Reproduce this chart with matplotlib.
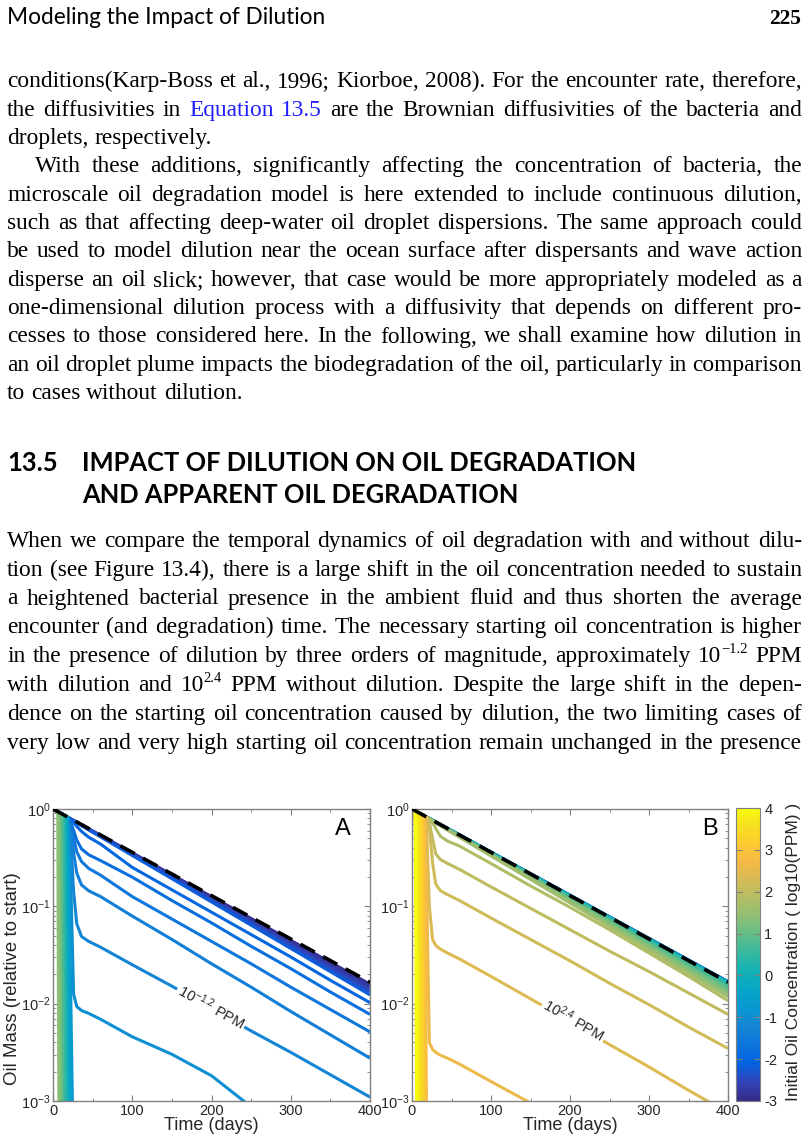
import numpy as np
import matplotlib
matplotlib.use("Agg")
import matplotlib.pyplot as plt
from matplotlib.colors import LinearSegmentedColormap, Normalize
from matplotlib.cm import ScalarMappable
from matplotlib.ticker import MultipleLocator, LogLocator, LogFormatterMathtext, NullFormatter

# ---------------- page text ----------------
header_left = "Modeling the Impact of Dilution"
page_number = "225"

# '@' marks a hyperlink word, '^{..}' a superscript
para1 = [
    "conditions(Karp-Boss et al., 1996; Kiorboe, 2008). For the encounter rate, therefore,",
    "the diffusivities in @Equation @13.5 are the Brownian diffusivities of the bacteria and",
    "droplets, respectively.",
]
para2 = [
    "With these additions, significantly affecting the concentration of bacteria, the",
    "microscale oil degradation model is here extended to include continuous dilution,",
    "such as that affecting deep-water oil droplet dispersions. The same approach could",
    "be used to model dilution near the ocean surface after dispersants and wave action",
    "disperse an oil slick; however, that case would be more appropriately modeled as a",
    "one-dimensional dilution process with a diffusivity that depends on different pro-",
    "cesses to those considered here. In the following, we shall examine how dilution in",
    "an oil droplet plume impacts the biodegradation of the oil, particularly in comparison",
    "to cases without dilution.",
]
section_num = "13.5"
section_title = ["IMPACT OF DILUTION ON OIL DEGRADATION", "AND APPARENT OIL DEGRADATION"]
para3 = [
    "When we compare the temporal dynamics of oil degradation with and without dilu-",
    "tion (see Figure 13.4), there is a large shift in the oil concentration needed to sustain",
    "a heightened bacterial presence in the ambient fluid and thus shorten the average",
    "encounter (and degradation) time. The necessary starting oil concentration is higher",
    "in the presence of dilution by three orders of magnitude, approximately 10^{\u22121.2} PPM",
    "with dilution and 10^{2.4} PPM without dilution. Despite the large shift in the depen-",
    "dence on the starting oil concentration caused by dilution, the two limiting cases of",
    "very low and very high starting oil concentration remain unchanged in the presence",
]

# ---------------- chart data: log10(oil mass relative to start) ----------------
t_grid = [0, 18, 22, 26, 30, 36, 45, 60, 100, 150, 200, 250, 300, 350, 400]
dash_t = [0, 400]
dash_v = [0.0, -1.78]

# panel A (with dilution)
a_band_conc = [-3.0, -2.8, -2.6, -2.4, -2.2]
a_band_end = [-1.80, -1.82, -1.85, -1.88, -1.91]
a_knee_conc = [-2.0, -1.8, -1.6, -1.4, -1.2, -1.0]
a_knee_vals = [
    [0, -0.085, -0.11, -0.14, -0.18, -0.23, -0.29, -0.36, -0.60, -0.83, -1.06, -1.29, -1.52, -1.76, -1.99],
    [0, -0.085, -0.13, -0.22, -0.32, -0.41, -0.47, -0.53, -0.70, -0.94, -1.17, -1.41, -1.64, -1.88, -2.11],
    [0, -0.085, -0.16, -0.30, -0.44, -0.54, -0.61, -0.68, -0.90, -1.13, -1.36, -1.59, -1.83, -2.06, -2.29],
    [0, -0.085, -0.20, -0.45, -0.66, -0.78, -0.84, -0.90, -1.10, -1.34, -1.59, -1.83, -2.08, -2.32, -2.56],
    [0, -0.085, -0.25, -0.85, -1.18, -1.31, -1.36, -1.42, -1.60, -1.82, -2.05, -2.28, -2.50, -2.73, -2.96],
    [0, -0.085, -0.60, -1.90, -2.03, -2.07, -2.10, -2.16, -2.34, -2.52, -2.74, -3.06, -3.30, -3.50, -3.70],
]
a_steep_conc = [-0.8, -0.6, -0.4, -0.2, 0.0, 0.2, 0.4, 0.6, 0.8, 1.0, 1.2, 1.4]
a_steep_t0 = [19, 18, 17, 16, 15, 14, 13, 12, 10.5, 9, 7.5, 6]
a_steep_v0 = [-0.085, -0.08, -0.075, -0.07, -0.067, -0.062, -0.058, -0.053, -0.047, -0.04, -0.033, -0.027]
a_steep_t1 = [25, 23, 21, 19.5, 18, 16.5, 15, 13.5, 12, 10.5, 9, 7.5]

# panel B (without dilution)
b_band_conc = [-3.0, -2.5, -2.0, -1.5, -1.0, -0.5, 0.0, 0.4, 0.6, 0.8, 1.0, 1.2, 1.4, 1.6]
b_band_end = [-1.775, -1.775, -1.775, -1.775, -1.775, -1.78, -1.785, -1.80, -1.815, -1.835,
              -1.855, -1.875, -1.90, -1.93]
b_knee_conc = [1.8, 2.0, 2.2, 2.4, 2.6]
b_knee_vals = [
    [0, -0.08, -0.10, -0.14, -0.20, -0.28, -0.33, -0.38, -0.56, -0.79, -1.01, -1.24, -1.48, -1.72, -1.97],
    [0, -0.08, -0.14, -0.30, -0.46, -0.52, -0.56, -0.62, -0.80, -1.02, -1.24, -1.46, -1.67, -1.89, -2.11],
    [0, -0.08, -0.20, -0.55, -0.77, -0.84, -0.88, -0.94, -1.12, -1.34, -1.56, -1.79, -2.01, -2.24, -2.46],
    [0, -0.08, -1.00, -1.34, -1.40, -1.44, -1.48, -1.54, -1.72, -1.95, -2.18, -2.42, -2.65, -2.89, -3.12],
    [0, -0.60, -2.40, -2.47, -2.50, -2.53, -2.56, -2.62, -2.80, -3.02, -3.24, -3.46, -3.68, -3.90, -4.10],
]
b_steep_conc = [2.8, 3.0, 3.2, 3.4, 3.6, 3.8, 4.0]
b_steep_t0 = [16, 14, 12, 10, 8, 6, 4]
b_steep_v0 = [-0.07, -0.062, -0.053, -0.045, -0.036, -0.027, -0.018]
b_steep_t1 = [18.5, 16, 14, 12, 10, 8, 6]
steep_end = -3.3

cbar_ticks = [-3, -2, -1, 0, 1, 2, 3, 4]

# ---------------- style ----------------
parula_rgb = [
    (0.2081, 0.1663, 0.5292), (0.1959, 0.2645, 0.7279), (0.0117, 0.3875, 0.8820),
    (0.0498, 0.4586, 0.8641), (0.0793, 0.5200, 0.8312), (0.0343, 0.5966, 0.8199),
    (0.0228, 0.6535, 0.7768), (0.0843, 0.6928, 0.7062), (0.2178, 0.7250, 0.6193),
    (0.3953, 0.7459, 0.5244), (0.5709, 0.7485, 0.4494), (0.7184, 0.7411, 0.3905),
    (0.8507, 0.7299, 0.3360), (0.9739, 0.7314, 0.2666), (0.9880, 0.8066, 0.1794),
    (0.9589, 0.8949, 0.1132), (0.9763, 0.9831, 0.0538),
]
parula_pos = [0, 4, 8, 12, 16, 20, 24, 28, 32, 36, 40, 44, 48, 52, 56, 60, 63]
parula = LinearSegmentedColormap.from_list(
    "parula", list(zip([p / 63 for p in parula_pos], parula_rgb)))
norm = Normalize(-3, 4)

SERIF = "Liberation Serif"
SANS = "Lato"
PLOT_FONT = "Liberation Sans"
LINK = "#1f1fff"
FRAME = "#808080"
TICKC = "#262626"

plt.rcParams["font.family"] = [PLOT_FONT, "DejaVu Sans"]
plt.rcParams["mathtext.fontset"] = "custom"
plt.rcParams["mathtext.rm"] = PLOT_FONT
plt.rcParams["mathtext.it"] = PLOT_FONT + ":italic"
plt.rcParams["mathtext.bf"] = PLOT_FONT + ":bold"
plt.rcParams["axes.unicode_minus"] = False

W, H = 810, 1145
fig = plt.figure(figsize=(W / 100, H / 100), dpi=100, facecolor="white")
renderer = fig.canvas.get_renderer()


def px(x, y):
    return x / W, 1 - y / H


def text_width(s, size, family, weight="normal"):
    if not s:
        return 0.0
    t = fig.text(0, 0, s, fontsize=size, family=family, weight=weight)
    w = t.get_window_extent(renderer).width
    t.remove()
    return w


def fit_size(s, target, family, weight="normal", ref=20):
    return ref * target / text_width(s, ref, family, weight)


# ---------------- justified body text ----------------
SUP = 0.62
X0, X1 = 7, 802


def pieces(word):
    color = LINK if word.startswith("@") else "black"
    word = word.lstrip("@")
    if "^{" in word:
        base, rest = word.split("^{")
        sup, tail = rest.split("}")
        return [(base, "n", color), (sup, "s", color), (tail, "n", color)]
    return [(word, "n", color)]


def word_width(word, size):
    return sum(text_width(p, size * (SUP if k == "s" else 1), SERIF)
               for p, k, c in pieces(word))


def space_width(size):
    return text_width("a a", size, SERIF) - text_width("aa", size, SERIF)


def draw_word(word, x, y, size):
    for p, k, c in pieces(word):
        if not p:
            continue
        s = size * (SUP if k == "s" else 1)
        dy = 0.38 * size * 100 / 72 if k == "s" else 0
        fig.text(*px(x, y - dy), p, fontsize=s, family=SERIF, color=c, va="baseline", ha="left")
        x += text_width(p, s, SERIF)


def draw_line(line, y, size, justify, indent=0):
    words = line.split(" ")
    widths = [word_width(w, size) for w in words]
    avail = X1 - X0 - indent
    if justify and len(words) > 1:
        gap = (avail - sum(widths)) / (len(words) - 1)
    else:
        gap = space_width(size)
    x = X0 + indent
    for w, wd in zip(words, widths):
        draw_word(w, x, y, size)
        x += wd + gap


# font size so that the tightest justified line still fits
base = 16.8
sp = space_width(base)
ratios = []
for para, ind in ((para1, 0), (para2, 28), (para3, 0)):
    for i, line in enumerate(para):
        ws = line.split(" ")
        nat = sum(word_width(w, base) for w in ws) + 0.8 * sp * (len(ws) - 1)
        ratios.append((X1 - X0 - (ind if i == 0 else 0)) / nat)
body = base * min(1.0, min(ratios))

for i, line in enumerate(para1):
    draw_line(line, 87.3 + 28.35 * i, body, i < len(para1) - 1)
for i, line in enumerate(para2):
    draw_line(line, 172.4 + 28.35 * i, body, i < len(para2) - 1, indent=28 if i == 0 else 0)
for i, line in enumerate(para3):
    draw_line(line, 546.7 + 28.9 * i, body, True)

# header
hs = fit_size(header_left, 318, SANS)
fig.text(*px(7, 23.5), header_left, fontsize=hs, family=SANS, va="baseline", ha="left")
fig.text(*px(801, 23.5), page_number, fontsize=15.5, family=SERIF, weight="bold",
         va="baseline", ha="right")

# section heading
ss = fit_size(section_title[0], 555, SANS, "bold")
fig.text(*px(7, 471), section_num, fontsize=ss, family=SANS, weight="bold", va="baseline")
fig.text(*px(82, 471), section_title[0], fontsize=ss, family=SANS, weight="bold", va="baseline")
fig.text(*px(82, 502.5), section_title[1], fontsize=ss, family=SANS, weight="bold", va="baseline")


# ---------------- chart ----------------
def style_axes(ax):
    ax.set_yscale("log")
    ax.set_xlim(0, 400)
    ax.set_ylim(1e-3, 1)
    ax.xaxis.set_major_locator(MultipleLocator(100))
    ax.xaxis.set_minor_locator(MultipleLocator(50))
    ax.yaxis.set_major_locator(LogLocator(base=10, numticks=10))
    ax.yaxis.set_minor_locator(LogLocator(base=10, subs=np.arange(2, 10), numticks=10))
    ax.yaxis.set_major_formatter(LogFormatterMathtext())
    ax.yaxis.set_minor_formatter(NullFormatter())
    ax.tick_params(which="both", direction="in", top=True, right=True,
                   color=FRAME, labelcolor=TICKC, labelsize=10.5)
    ax.tick_params(which="major", length=4.5, width=0.8)
    ax.tick_params(which="minor", length=2.5, width=0.6)
    ax.tick_params(axis="x", pad=2)
    ax.tick_params(axis="y", pad=1.5)
    for s in ax.spines.values():
        s.set_color(FRAME)
        s.set_linewidth(1.0)
    ax.set_xlabel("Time (days)", fontsize=13, color=TICKC)
    ax.xaxis.set_label_coords(0.5, -0.055)


def curve(ax, t, v, c):
    ax.plot(t, np.power(10.0, v), color=parula(norm(c)), lw=2.2,
            solid_joinstyle="round", solid_capstyle="butt")


def draw_panel(ax, band_conc, band_end, knee_conc, knee_vals, st_conc, st_t0, st_v0, st_t1):
    for c, e in zip(band_conc, band_end):
        curve(ax, [0, 400], [0.0, e], c)
    for c, vals in zip(knee_conc, knee_vals):
        curve(ax, t_grid, vals, c)
    for c, t0, v0, t1 in zip(st_conc, st_t0, st_v0, st_t1):
        curve(ax, [0, t0, t1], [0.0, v0, steep_end], c)
    ax.plot(dash_t, np.power(10.0, dash_v), color="black", lw=2.6,
            dashes=(4.5, 2.6), zorder=4)
    style_axes(ax)


axA = fig.add_axes([53 / W, 1 - 1101 / H, 317 / W, 292 / H])
draw_panel(axA, a_band_conc, a_band_end, a_knee_conc, a_knee_vals,
           a_steep_conc, a_steep_t0, a_steep_v0, a_steep_t1)
axA.set_ylabel("Oil Mass (relative to start)", fontsize=13.5, color=TICKC, va="center")
axA.yaxis.set_label_coords(-0.128, 0.42)
axA.text(0.915, 0.93, "A", transform=axA.transAxes, fontsize=17, ha="center", va="center",
         color="black")
axA.text(200, 10 ** -2.03, r"$10^{-1.2}$ PPM", rotation=-29, rotation_mode="anchor",
         ha="center", va="center", fontsize=10.5, color=TICKC, zorder=5,
         bbox=dict(boxstyle="square,pad=0.12", fc="white", ec="none"))

axB = fig.add_axes([412 / W, 1 - 1101 / H, 316 / W, 292 / H])
draw_panel(axB, b_band_conc, b_band_end, b_knee_conc, b_knee_vals,
           b_steep_conc, b_steep_t0, b_steep_v0, b_steep_t1)
axB.text(0.943, 0.93, "B", transform=axB.transAxes, fontsize=17, ha="center", va="center",
         color="black")
axB.text(205, 10 ** -2.17, r"$10^{2.4}$ PPM", rotation=-30, rotation_mode="anchor",
         ha="center", va="center", fontsize=10.5, color=TICKC, zorder=5,
         bbox=dict(boxstyle="square,pad=0.12", fc="white", ec="none"))

cax = fig.add_axes([736 / W, 1 - 1101 / H, 24 / W, 293 / H])
cb = fig.colorbar(ScalarMappable(norm=norm, cmap=parula), cax=cax, ticks=cbar_ticks)
cb.outline.set_edgecolor(FRAME)
cax.tick_params(direction="in", left=True, right=True, length=4, color=FRAME,
                labelcolor=TICKC, labelsize=10.5, pad=3)
cb.set_label("Initial Oil Concentration ( log10(PPM) )", fontsize=12.5, color=TICKC, va="center")
cax.yaxis.set_label_coords(2.4, 0.51)

fig.savefig("out.png", dpi=100, facecolor="white")
